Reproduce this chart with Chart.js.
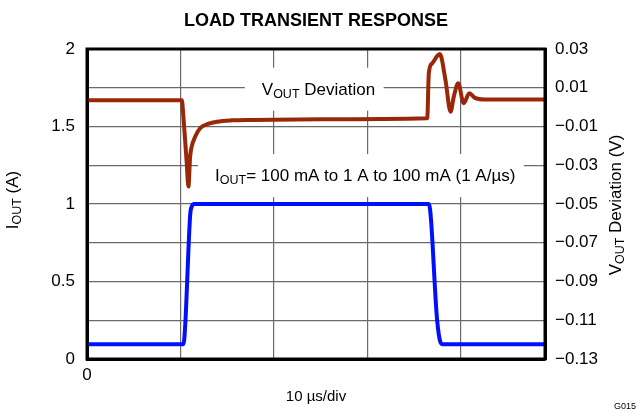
<!DOCTYPE html>
<html>
<head>
<meta charset="utf-8">
<script src="https://cdn.jsdelivr.net/npm/chart.js@4/dist/chart.umd.min.js"></script>
<style>
  body { margin: 0; background: #fff; }
  #wrap { position: relative; width: 636px; height: 414px; }
</style>
</head>
<body>
<div id="wrap"><canvas id="myChart"></canvas></div>
<script>
// DATA ----------------------------------------------------------------------
// time in us (10 us per division)
var voutTime = [0, 10.15, 10.3, 10.67, 10.85, 11.03, 11.2, 11.57, 12.1, 12.95, 13.9, 15.5, 17.5, 25, 36.4,
                36.57, 36.93, 37.75, 38.35, 38.9, 39.24, 39.72, 40.3, 40.9, 41.5, 42.5, 49];
var voutDev  = [0.0035, 0.0035, -0.004, -0.0289, -0.041, -0.0256, -0.0204, -0.0153, -0.0109, -0.0087, -0.0075, -0.0068, -0.0066, -0.0063, -0.0058,
                0.0175, 0.0226, 0.0274, 0.014, -0.0024, 0.0054, 0.0123, 0.002, 0.0071, 0.0048, 0.004, 0.004];

var ioutTime = [0, 10.32, 10.5, 11.04, 11.22, 11.45, 12, 25, 36.57, 37.46, 37.8, 38.05, 49];
var ioutAmps = [0.095, 0.095, 0.21, 0.93, 0.985, 1.0, 1.0, 1.0, 1.0, 0.25, 0.11, 0.095, 0.095];

var leftTicks  = [0, 0.5, 1, 1.5, 2];
var rightMin = -0.13, rightMax = 0.03, rightStep = 0.02;

var FONT = "'Liberation Sans', Arial, Helvetica, sans-serif";

function toPoints(xs, ys) {
  return xs.map(function(x, i) { return { x: x, y: ys[i] }; });
}

// text with a subscript part: parts = [[text, isSub], ...]
function subWidth(ctx, parts, size, subSize) {
  var w = 0;
  parts.forEach(function(p) {
    ctx.font = (p[1] ? subSize : size) + "px " + FONT;
    w += ctx.measureText(p[0]).width;
  });
  return w;
}
function drawSub(ctx, parts, x, y, size, subSize) {
  parts.forEach(function(p) {
    ctx.font = (p[1] ? subSize : size) + "px " + FONT;
    ctx.fillText(p[0], x, p[1] ? y + 3 : y);
    x += ctx.measureText(p[0]).width;
  });
}

// ANNOTATIONS / FRAME -------------------------------------------------------
var notes = [
  { parts: [["V", false], ["OUT", true], [" Deviation", false]], t: 18.7, v: 0.0064, axis: "yR" },
  { parts: [["I", false], ["OUT", true], ["= 100 mA to 1 A to 100 mA (1 A/\u00b5s)", false]], t: 13.7, v: 1.148, axis: "y" }
];

var decor = {
  id: "decor",
  beforeDatasetsDraw: function(chart) {
    var ctx = chart.ctx;
    ctx.save();
    ctx.textBaseline = "alphabetic";
    ctx.textAlign = "left";
    notes.forEach(function(n) {
      var x = chart.scales.x.getPixelForValue(n.t);
      var y = chart.scales[n.axis].getPixelForValue(n.v);
      var w = subWidth(ctx, n.parts, 17, 12.5);
      ctx.fillStyle = "#fff";
      ctx.fillRect(x - 17, y - 27, w + 25.5, 43);
      ctx.fillStyle = "#000";
      drawSub(ctx, n.parts, x, y, 17, 12.5);
    });
    ctx.restore();
  },
  afterDraw: function(chart) {
    var ctx = chart.ctx, a = chart.chartArea;
    ctx.save();
    // frame
    ctx.strokeStyle = "#000";
    ctx.lineWidth = 3;
    ctx.strokeRect(a.left, a.top, a.right - a.left, a.bottom - a.top);

    ctx.fillStyle = "#000";
    ctx.textBaseline = "alphabetic";
    // title
    ctx.textAlign = "center";
    ctx.font = "bold 18px " + FONT;
    ctx.fillText("LOAD TRANSIENT RESPONSE", (a.left + a.right) / 2, 25.5);
    // x title
    ctx.font = "15px " + FONT;
    ctx.fillText("10 \u00b5s/div", (a.left + a.right) / 2, 401);

    // left title
    ctx.textAlign = "left";
    var lp = [["I", false], ["OUT", true], [" (A)", false]];
    ctx.save();
    ctx.translate(18, 200);
    ctx.rotate(-Math.PI / 2);
    drawSub(ctx, lp, -subWidth(ctx, lp, 17, 12.5) / 2, 0, 17, 12.5);
    ctx.restore();

    // right title
    var rp = [["V", false], ["OUT", true], [" Deviation (V)", false]];
    ctx.save();
    ctx.translate(621, 205);
    ctx.rotate(-Math.PI / 2);
    drawSub(ctx, rp, -subWidth(ctx, rp, 17, 12.5) / 2, 0, 17, 12.5);
    ctx.restore();

    // figure code
    ctx.font = "9px " + FONT;
    ctx.fillText("G015", 614, 409);
    ctx.restore();
  }
};

// CHART ---------------------------------------------------------------------
var ctx = document.getElementById("myChart").getContext("2d");
var chart = new Chart(ctx, {
  type: "line",
  data: {
    datasets: [
      {
        label: "IOUT",
        data: toPoints(ioutTime, ioutAmps),
        yAxisID: "y",
        borderColor: "#0010f8",
        borderWidth: 4,
        pointRadius: 0,
        cubicInterpolationMode: "monotone"
      },
      {
        label: "VOUT Deviation",
        data: toPoints(voutTime, voutDev),
        yAxisID: "yR",
        borderColor: "#982808",
        borderWidth: 4,
        pointRadius: 0,
        cubicInterpolationMode: "monotone"
      }
    ]
  },
  options: {
    responsive: true,
    maintainAspectRatio: false,
    animation: false,
    layout: { padding: { top: 49, left: 0, right: 0, bottom: 0 } },
    plugins: { legend: { display: false }, tooltip: { enabled: false } },
    scales: {
      x: {
        type: "linear",
        min: 0,
        max: 49,
        ticks: {
          stepSize: 10,
          padding: 6,
          color: "#000",
          font: { family: FONT, size: 17 },
          maxRotation: 0,
          callback: function(v) { return v === 0 ? "0" : ""; }
        },
        grid: { color: "#6a6a6a", lineWidth: 1.2, drawTicks: false },
        border: { display: true, color: "#000", width: 3 },
        afterFit: function(s) { s.height = 55; }
      },
      y: {
        position: "left",
        min: 0,
        max: 2,
        ticks: {
          stepSize: 0.25,
          padding: 12,
          color: "#000",
          font: { family: FONT, size: 17 },
          callback: function(v) { return leftTicks.indexOf(v) >= 0 ? String(v) : ""; }
        },
        grid: { color: "#6a6a6a", lineWidth: 1.2, drawTicks: false },
        border: { display: true, color: "#000", width: 3 },
        afterFit: function(s) { s.width = 87; }
      },
      yR: {
        position: "right",
        min: rightMin,
        max: rightMax,
        ticks: {
          stepSize: rightStep,
          padding: 10,
          color: "#000",
          font: { family: FONT, size: 17 },
          callback: function(v) { return v.toFixed(2).replace("-", "\u2212"); }
        },
        grid: { drawOnChartArea: false, drawTicks: false },
        border: { display: true, color: "#000", width: 3 },
        afterFit: function(s) { s.width = 91; }
      }
    }
  },
  plugins: [decor]
});
</script>
</body>
</html>
